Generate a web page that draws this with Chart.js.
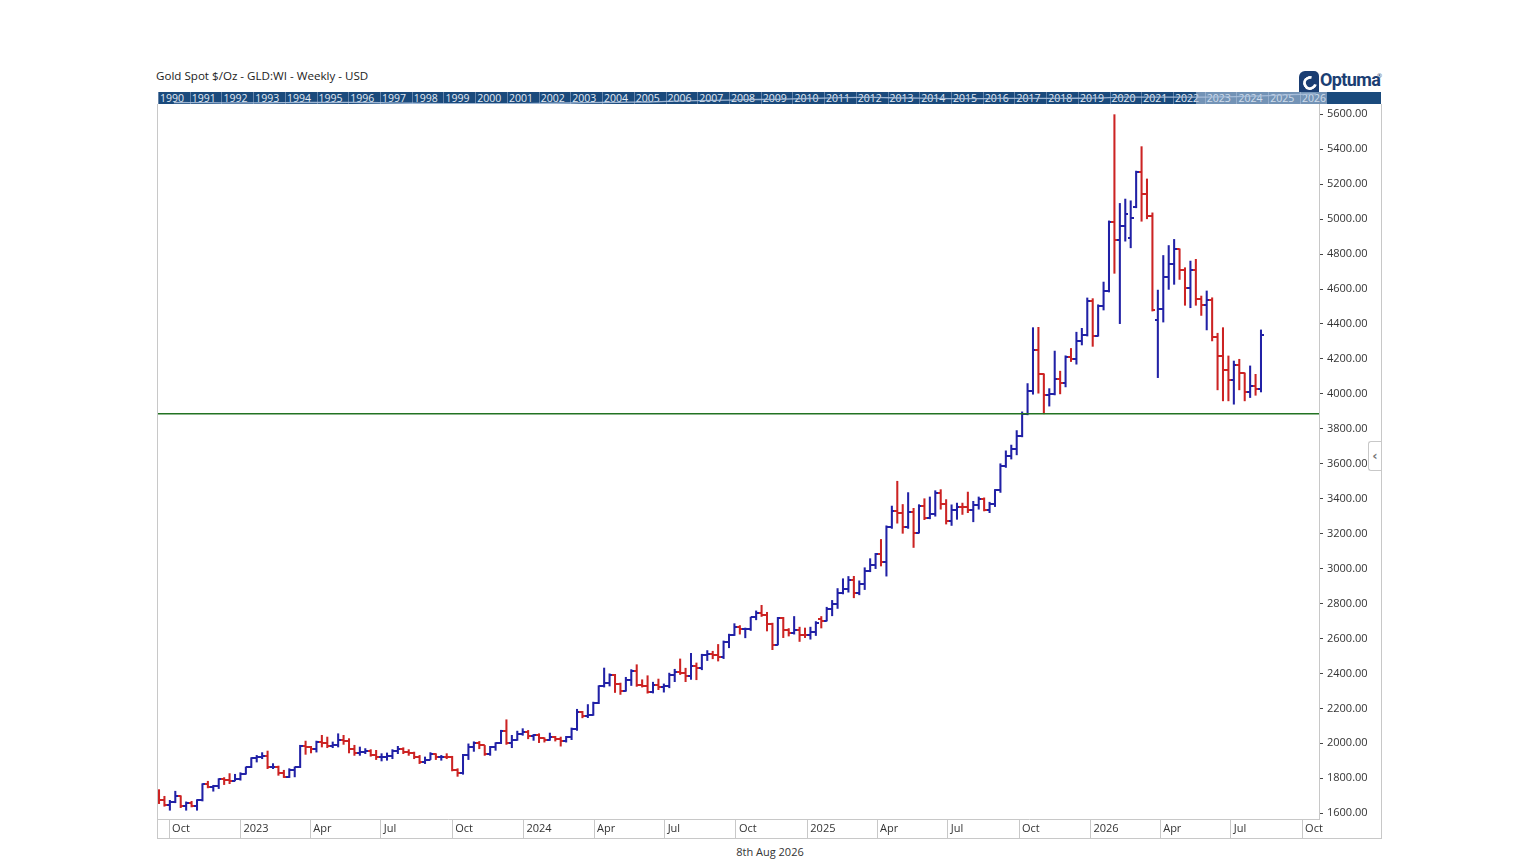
<!DOCTYPE html>
<html lang="en">
<head>
<meta charset="UTF-8">
<title>Gold Spot $/Oz - GLD:WI - Weekly - USD</title>
<script src="https://cdn.jsdelivr.net/npm/chart.js"></script>
<style>
  body { margin: 0; background: #fff; font-family: "Open Sans", Arial, sans-serif; }
  #page { position: relative; width: 1536px; height: 864px; overflow: hidden; }
  #title { position: absolute; left: 156px; top: 68px; font-size: 11.6px; color: #222; white-space: nowrap; }
  #band { position: absolute; left: 158px; top: 92px; width: 1223px; height: 12px; background: #1a4a7c; overflow: hidden; }
  .yr { position: absolute; top: 0; height: 12px; line-height: 12px; font-size: 10.5px; color: #e4ebf3;
        border-left: 1px solid #6583a8; padding-left: 1px; box-sizing: border-box; width: 32px; }
  #view { position: absolute; top: 0; left: 1038px; width: 131px; height: 12px; background: rgba(190, 208, 230, 0.55); }
  #bandLine { position: absolute; left: 0; top: 0; }
  #frame { position: absolute; left: 157px; top: 104px; width: 1223px; height: 734px; border: 1px solid #c8c8c8; border-top: none; }
  #frame canvas { display: block; }
  #logo { position: absolute; left: 1299px; top: 70px; height: 22px; white-space: nowrap; }
  #logo .mark { position: absolute; left: 0; top: 1px; width: 20px; height: 21px; background: #1b3e73; border-radius: 6px 5px 0 0; }
  #logo .ring { position: absolute; left: 4px; top: 5px; width: 8px; height: 8px; border: 3px solid #fff; border-right-color: transparent; border-radius: 50%; transform: rotate(-30deg); }
  #logo .word { position: absolute; left: 21px; top: -1px; font-family: "Liberation Sans Narrow", "Roboto", Arial, sans-serif; font-weight: bold; font-size: 18px; color: #1b3e73; letter-spacing: -0.6px; }
  #logo .reg { position: absolute; left: 78px; top: 2px; font-size: 6px; color: #1b3e73; }
  #collapse { position: absolute; left: 1368px; top: 441px; width: 12px; height: 28px; background: #fff; border: 1px solid #c8c8c8; border-right: none;
              border-radius: 3px 0 0 3px; font-family: "DejaVu Sans", sans-serif; font-weight: bold; font-size: 13px; line-height: 27px; color: #777; text-align: center; }
  #footer { position: absolute; left: 670px; top: 844px; width: 200px; text-align: center; font-size: 11px; color: #333; }
</style>
</head>
<body>
<div id="page">
  <div id="title">Gold Spot $/Oz - GLD:WI - Weekly - USD</div>
  <div id="logo"><span class="mark"><span class="ring"></span></span><span class="word">Optuma</span><span class="reg">®</span></div>
  <div id="band"><div id="view"></div><canvas id="bandLine" width="1223" height="12"></canvas></div>
  <div id="frame"><canvas id="goldChart" width="1223" height="734"></canvas></div>
  <div id="collapse">‹</div>
  <div id="footer">8th Aug 2026</div>
</div>

<script>
// weekly bars, first week plotted at 18 Sep 2022, one bar per week
const firstWeek = '2022-09-18';

const opens = [
  1716,1675,1648,1662,1697,1642,1656,1644,1675,1768, 1750,1754,1794,1790,1786,1795,1826,1862,1914,1924,
  1930,1862,1866,1832,1810,1850,1862,1985,1980,1966, 2008,2003,1983,1989,2017,2012,1966,1942,1950,1957,
  1932,1921,1922,1930,1955,1968,1952,1944,1920,1892, 1907,1940,1920,1924,1921,1849,1832,1931,1980,2002,
  1990,1938,1978,2000,2070,2004,2018,2053,2064,2044, 2048,2028,2018,2038,2024,2013,2034,2082,2180,2155,
  2165,2232,2328,2344,2390,2338,2301,2360,2415,2334, 2327,2294,2333,2322,2326,2392,2411,2400,2386,2443,
  2431,2507,2512,2503,2497,2578,2622,2664,2653,2656, 2721,2747,2736,2684,2563,2716,2650,2633,2648,2622,
  2621,2640,2712,2702,2770,2798,2861,2882,2936,2858, 2910,2984,3023,3085,3037,3238,3327,3319,3241,3325,
  3204,3357,3289,3310,3432,3368,3274,3337,3355,3350, 3336,3363,3397,3336,3372,3448,3586,3643,3685,3760,
  3887,4018,4251,4113,3996,4000,4084,4065,4210,4198, 4300,4339,4533,4332,4505,4590,4983,4880,4962,4890,
  5070,5268,5146,5017,4425,4487,4670,4741,4827,4709, 4606,4709,4545,4507,4537,4328,4217,4137,4080,4164,
  4118,4011,4046,4030
];
const highs = [
  1735,1697,1674,1726,1700,1665,1668,1678,1769,1783, 1760,1798,1804,1827,1823,1832,1865,1918,1931,1947,
  1956,1884,1870,1846,1855,1865,1989,2013,1983,2013, 2046,2036,2008,2055,2046,2027,1989,1979,1970,1964,
  1960,1941,1945,1964,1983,1975,1964,1950,1931,1922, 1947,1941,1931,1941,1926,1855,1937,1997,2009,2011,
  1988,1983,2004,2075,2135,2046,2070,2084,2074,2051, 2055,2032,2059,2040,2036,2040,2088,2195,2183,2222,
  2236,2330,2431,2398,2395,2345,2378,2422,2450,2364, 2387,2350,2368,2340,2402,2424,2483,2430,2515,2460,
  2510,2531,2527,2566,2586,2625,2685,2674,2660,2722, 2758,2790,2750,2688,2721,2721,2657,2726,2665,2660,
  2665,2697,2726,2779,2818,2886,2942,2955,2956,2930, 3005,3057,3087,3167,3245,3358,3500,3367,3435,3345,
  3366,3400,3410,3446,3452,3395,3365,3375,3375,3438, 3385,3410,3405,3380,3453,3600,3674,3707,3790,3897,
  4059,4379,4381,4115,4030,4245,4130,4218,4260,4353, 4375,4549,4545,4510,4640,4990,5598,5090,5115,5105,
  5275,5415,5230,5036,4594,4792,4849,4884,4830,4722, 4760,4770,4560,4589,4550,4347,4379,4217,4188,4198,
  4120,4160,4112,4366
];
const lows = [
  1655,1640,1617,1660,1632,1617,1636,1617,1670,1745, 1726,1741,1764,1769,1785,1789,1823,1861,1893,1912,
  1855,1855,1817,1804,1804,1808,1861,1937,1945,1950, 1979,1975,1975,1979,1994,1945,1931,1931,1941,1926,
  1907,1899,1903,1912,1941,1941,1931,1912,1884,1884, 1907,1907,1903,1912,1842,1811,1823,1907,1954,1969,
  1931,1931,1960,1998,1994,1975,2017,2046,2026,2017, 2004,2007,2017,2013,1984,2007,2021,2074,2146,2147,
  2160,2227,2322,2328,2291,2280,2298,2331,2326,2322, 2287,2288,2307,2293,2318,2353,2394,2353,2366,2364,
  2421,2474,2484,2471,2485,2547,2617,2625,2604,2646, 2707,2726,2643,2536,2563,2605,2614,2625,2583,2605,
  2596,2617,2660,2700,2730,2772,2855,2865,2833,2850, 2880,2982,3000,3015,2957,3230,3260,3202,3230,3121,
  3203,3280,3285,3300,3340,3255,3247,3282,3310,3320, 3268,3340,3330,3320,3355,3436,3579,3627,3651,3754,
  3880,3998,4004,3886,3930,3994,4000,4040,4185,4170, 4280,4331,4272,4330,4480,4583,4690,4402,4874,4836,
  5065,4988,5002,4474,4093,4411,4598,4627,4655,4507, 4493,4507,4449,4366,4303,4023,3960,3960,3941,4023,
  3960,3979,3992,4011
];
const closes = [
  1675,1648,1662,1697,1642,1656,1644,1675,1768,1750, 1754,1794,1790,1786,1795,1826,1862,1914,1924,1930,
  1862,1866,1832,1810,1850,1862,1985,1980,1966,2008, 2003,1983,1989,2017,2012,1966,1942,1950,1957,1932,
  1921,1922,1930,1955,1968,1952,1944,1920,1892,1907, 1940,1920,1924,1921,1849,1832,1931,1980,2002,1990,
  1938,1978,2000,2070,2004,2018,2053,2064,2044,2048, 2028,2018,2038,2024,2013,2034,2082,2180,2155,2165,
  2232,2328,2344,2390,2338,2301,2360,2415,2334,2327, 2294,2333,2322,2326,2392,2411,2400,2386,2443,2431,
  2507,2512,2503,2497,2578,2622,2664,2653,2656,2721, 2747,2736,2684,2563,2716,2650,2633,2648,2622,2621,
  2640,2690,2702,2770,2798,2861,2882,2936,2858,2910, 2984,3023,3085,3037,3238,3327,3319,3241,3325,3204,
  3357,3289,3310,3432,3368,3274,3337,3355,3350,3336, 3363,3397,3336,3372,3448,3586,3643,3685,3760,3887,
  4018,4251,4113,3996,4000,4084,4065,4210,4198,4300, 4339,4533,4332,4505,4590,4983,4880,4962,5032,5008,
  5268,5146,5017,4480,4487,4670,4741,4827,4709,4606, 4709,4545,4507,4537,4328,4217,4137,4080,4164,4118,
  4011,4046,4030,4335
];

// horizontal line drawn on the chart (Oct 2025 low)
const supportLevel = 3886;

const yTicks = [1600,1800,2000,2200,2400,2600,2800,3000,3200,3400,3600,3800,4000,4200,4400,4600,4800,5000,5200,5400,5600];
const tickDates = ['2022-10-01','2023-01-01','2023-04-01','2023-07-01','2023-10-01','2024-01-01','2024-04-01','2024-07-01',
                   '2024-10-01','2025-01-01','2025-04-01','2025-07-01','2025-10-01','2026-01-01','2026-04-01','2026-07-01','2026-10-01'];
const tickLabels = ['Oct','2023','Apr','Jul','Oct','2024','Apr','Jul','Oct','2025','Apr','Jul','Oct','2026','Apr','Jul','Oct'];

// navigator band along the top
const bandYears = [1990,1991,1992,1993,1994,1995,1996,1997,1998,1999,2000,2001,2002,2003,2004,2005,2006,2007,2008,
                   2009,2010,2011,2012,2013,2014,2015,2016,2017,2018,2019,2020,2021,2022,2023,2024,2025,2026];
const bandAvg = [384,362,344,360,384,384,388,331,294,279,279,271,310,363,409,444,604,695,872,
                 972,1225,1572,1669,1411,1266,1160,1251,1257,1268,1393,1770,1799,1800,1943,2386,3400,4600];

const BLUE = '#2121a6';
const RED = '#cc2323';
const DAY = 86400000;
const toDay = s => Date.parse(s + 'T00:00:00Z') / DAY;

const t0 = toDay(firstWeek);
const weekX = highs.map((h, i) => t0 + 7 * i);
const xMin = t0 - 1.3;
const xMax = t0 + 1495.8;
const isUp = i => closes[i] >= opens[i];

function tickImage(color, side) {
  const c = document.createElement('canvas');
  c.width = 6; c.height = 2;
  const g = c.getContext('2d');
  g.fillStyle = color;
  g.fillRect(side === 'left' ? 0 : 3, 0, 3, 2);
  return c;
}
const tickImg = {
  blueL: tickImage(BLUE, 'left'), blueR: tickImage(BLUE, 'right'),
  redL: tickImage(RED, 'left'), redR: tickImage(RED, 'right')
};

Chart.defaults.font.family = '"Open Sans", Arial, sans-serif';
Chart.defaults.font.size = 11;
Chart.defaults.color = '#333';

// year cells in the band
const band = document.getElementById('band');
const cellW = 31.72;
bandYears.forEach((yr, k) => {
  const s = document.createElement('span');
  s.className = 'yr';
  s.style.left = (k * cellW) + 'px';
  s.textContent = yr;
  band.insertBefore(s, document.getElementById('view'));
});

new Chart(document.getElementById('bandLine'), {
  type: 'line',
  data: {
    datasets: [{
      data: bandYears.map((yr, k) => ({ x: yr + 0.5, y: bandAvg[k] })),
      borderColor: 'rgba(170, 192, 220, 0.9)',
      borderWidth: 1.3,
      pointRadius: 0,
      tension: 0.3
    }]
  },
  options: {
    responsive: false,
    animation: false,
    events: [],
    layout: { padding: 0, autoPadding: false },
    plugins: { legend: { display: false }, tooltip: { enabled: false } },
    scales: {
      x: { type: 'linear', display: false, min: 1990, max: 1990 + 1223 / cellW },
      y: { type: 'logarithmic', display: false, min: 250, max: 8000 }
    }
  }
});

new Chart(document.getElementById('goldChart'), {
  type: 'bar',
  data: {
    datasets: [
      {
        type: 'line',
        data: [{ x: xMin, y: supportLevel }, { x: xMax, y: supportLevel }],
        borderColor: '#237323',
        borderWidth: 1.5,
        pointRadius: 0,
        order: 0
      },
      {
        type: 'scatter',
        data: weekX.map((x, i) => ({ x: x, y: opens[i] })),
        pointStyle: ctx => isUp(ctx.dataIndex) ? tickImg.blueL : tickImg.redL,
        pointRadius: 3,
        order: 1
      },
      {
        type: 'scatter',
        data: weekX.map((x, i) => ({ x: x, y: closes[i] })),
        pointStyle: ctx => isUp(ctx.dataIndex) ? tickImg.blueR : tickImg.redR,
        pointRadius: 3,
        order: 1
      },
      {
        type: 'bar',
        data: weekX.map((x, i) => ({ x: x, y: [lows[i], highs[i]] })),
        backgroundColor: highs.map((h, i) => isUp(i) ? BLUE : RED),
        barThickness: 1.4,
        borderWidth: 0,
        order: 2
      }
    ]
  },
  options: {
    responsive: false,
    animation: false,
    events: [],
    layout: { padding: 0, autoPadding: false },
    plugins: { legend: { display: false }, tooltip: { enabled: false } },
    scales: {
      x: {
        type: 'linear',
        min: xMin,
        max: xMax,
        offset: false,
        grid: { drawOnChartArea: false, drawTicks: true, tickLength: 19, color: '#c8c8c8', offset: false },
        border: { display: true, color: '#c8c8c8' },
        ticks: {
          autoSkip: false, maxRotation: 0, align: 'start', labelOffset: 3, padding: -16, color: '#333',
          callback: (v, i) => tickLabels[i]
        },
        afterBuildTicks: s => { s.ticks = tickDates.map(d => ({ value: toDay(d) })); },
        afterFit: s => { s.height = 19; s.paddingLeft = 0; s.paddingRight = 0; s.paddingTop = 0; s.paddingBottom = 0; }
      },
      y: {
        type: 'linear',
        position: 'right',
        min: 1567,
        max: 5659,
        grid: { drawOnChartArea: false, tickLength: 4, color: '#444' },
        border: { display: true, color: '#c8c8c8' },
        ticks: { padding: 4, color: '#333', callback: v => v.toFixed(2) },
        afterBuildTicks: s => { s.ticks = yTicks.map(v => ({ value: v })); },
        afterFit: s => { s.width = 62; s.paddingTop = 0; s.paddingBottom = 0; }
      }
    }
  }
});
</script>
</body>
</html>
